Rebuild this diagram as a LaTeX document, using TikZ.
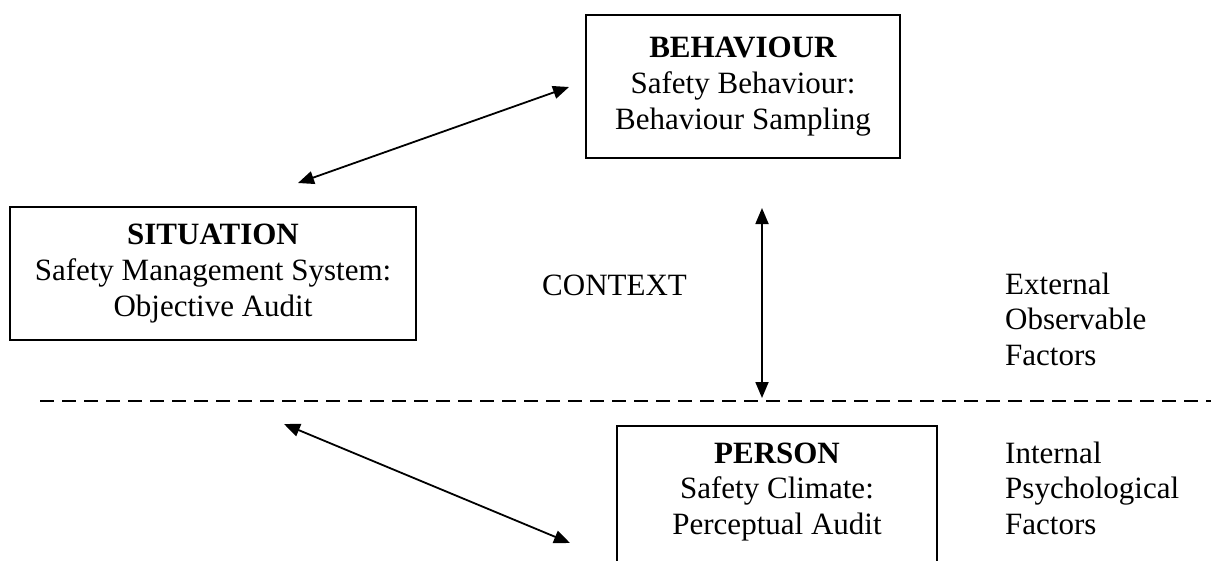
\documentclass[tikz,border=0pt]{standalone}
\usepackage{fontspec}
\setmainfont{Liberation Serif}
\usetikzlibrary{arrows.meta}
\begin{document}
\begin{tikzpicture}[x=1pt,y=-1pt,
  box/.style={draw, line width=1.6pt, align=center, inner sep=0pt,
    font=\fontsize{31}{35.6}\selectfont},
  txt/.style={align=center, inner sep=0pt, font=\fontsize{31}{35.6}\selectfont},
  lbl/.style={align=left, inner sep=0pt, anchor=north west, font=\fontsize{31}{35.6}\selectfont},
  dbl/.style={line width=1.8pt, {Triangle[length=16pt,width=13pt]}-{Triangle[length=16pt,width=13pt]}}]
\useasboundingbox (0,0) rectangle (1211,560);
\node[box, minimum width=314pt, minimum height=143pt] (beh) at (743,86.5)
  {\textbf{BEHAVIOUR}\\Safety Behaviour:\\Behaviour Sampling};
\node[box, minimum width=406pt, minimum height=133pt] (sit) at (213,273.5)
  {\textbf{SITUATION}\\Safety Management System:\\Objective Audit};
\node[box, minimum width=320pt, minimum height=160pt, anchor=north] (per) at (777,425) {};
\node[txt, anchor=north] (pertxt) at (777,442.5)
  {\textbf{PERSON}\\Safety Climate:\\Perceptual Audit};
\node[lbl] (ctx) at (542,274.5) {CONTEXT};
\node[lbl] (ext) at (1005,272.5) {External\\Observable\\Factors};
\node[lbl] (int) at (1005,441.5) {Internal\\Psychological\\Factors};
\coordinate (a1) at (298,183);
\coordinate (a2) at (569,87);
\coordinate (b1) at (762,208);
\coordinate (b2) at (762,398);
\coordinate (c1) at (284,424);
\coordinate (c2) at (570,543);
\coordinate (d1) at (40,401);
\coordinate (d2) at (1211,401);
\draw[dbl] (a1) -- (a2);
\draw[dbl] (b1) -- (b2);
\draw[dbl] (c1) -- (c2);
\draw[line width=1.6pt, dash pattern=on 14pt off 8pt] (d1) -- (d2);
\end{tikzpicture}
\end{document}
